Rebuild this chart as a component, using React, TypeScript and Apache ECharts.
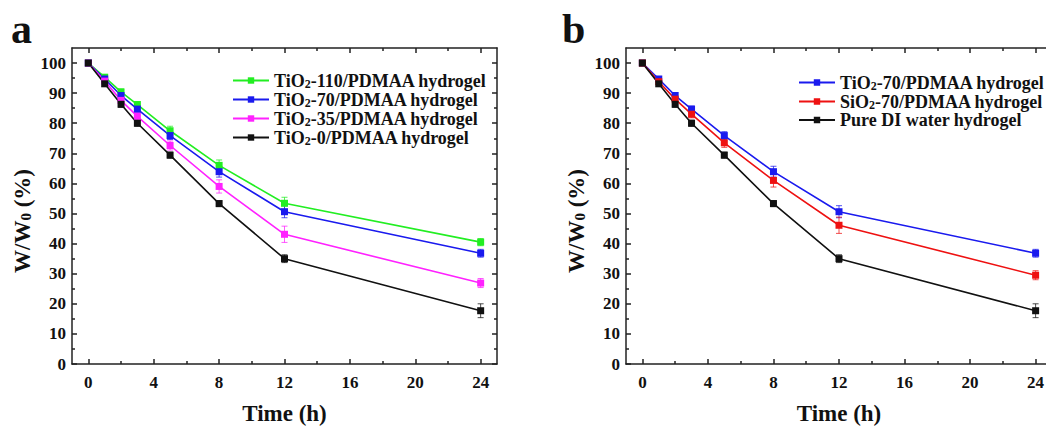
import React, { useEffect, useRef } from "react";
import * as echarts from "echarts";

const times = [0, 1, 2, 3, 5, 8, 12, 24];

const namesA = [
  "TiO2-110/PDMAA hydrogel",
  "TiO2-70/PDMAA hydrogel",
  "TiO2-35/PDMAA hydrogel",
  "TiO2-0/PDMAA hydrogel",
];
const namesB = [
  "TiO2-70/PDMAA hydrogel",
  "SiO2-70/PDMAA hydrogel",
  "Pure DI water hydrogel",
];

const tio2_110 = [100, 95.3, 90.4, 86.2, 77.5, 66.0, 53.4, 40.5];
const tio2_70 = [100, 94.7, 89.2, 84.7, 75.9, 63.9, 50.6, 36.8];
const tio2_35 = [100, 94.0, 87.6, 82.3, 72.6, 59.0, 43.1, 26.9];
const tio2_0 = [100, 93.1, 86.3, 80.0, 69.4, 53.3, 35.0, 17.7];
const sio2_70 = [100, 93.8, 88.0, 83.0, 73.5, 61.0, 46.1, 29.5];

const err_110 = [0.5, 0.8, 1.0, 1.0, 1.5, 1.8, 2.0, 1.2];
const err_70 = [0.5, 0.8, 1.0, 1.0, 1.3, 1.8, 2.0, 1.3];
const err_35 = [0.5, 0.8, 1.0, 1.2, 1.5, 2.2, 2.7, 1.5];
const err_0 = [0.5, 0.8, 1.0, 1.0, 1.0, 1.0, 1.3, 2.3];
const err_si = [0.5, 0.8, 1.0, 1.2, 1.5, 2.2, 2.7, 1.5];

const xMajor = [0, 4, 8, 12, 16, 20, 24];
const xMinor = [2, 6, 10, 14, 18, 22];
const yMajor = [0, 10, 20, 30, 40, 50, 60, 70, 80, 90, 100];
const yMinor = [5, 15, 25, 35, 45, 55, 65, 75, 85, 95];

const yTitle = "{n|W/W}{s|0}{n| (%)}";

const FONT = "'Liberation Serif', 'Times New Roman', serif";
const AX = "#222";

function sub(name: string) {
  const i = name.indexOf("O2");
  if (i < 0) return `{n|${name}}`;
  return `{n|${name.slice(0, i + 1)}}{s|2}{n|${name.slice(i + 2)}}`;
}

const richText = {
  n: { fontFamily: FONT, fontWeight: "bold", fontSize: 18, color: "#111", lineHeight: 21 },
  s: { fontFamily: FONT, fontWeight: "bold", fontSize: 12, color: "#111", lineHeight: 12, padding: [7, 0, 0, 0] },
};

const titleRich = {
  n: { fontFamily: FONT, fontWeight: "bold", fontSize: 23, fill: "#111", color: "#111", lineHeight: 26 },
  s: { fontFamily: FONT, fontWeight: "bold", fontSize: 15, fill: "#111", color: "#111", lineHeight: 15, padding: [8, 0, 0, 0] },
};

function makeX(grid: number) {
  const base = {
    type: "value",
    gridIndex: grid,
    min: -1,
    max: 25,
    splitLine: { show: false },
  };
  return [
    {
      ...base,
      position: "bottom",
      axisLine: { show: true, onZero: false, lineStyle: { color: AX, width: 1.5 } },
      axisTick: { show: true, inside: true, length: 5, customValues: xMajor, lineStyle: { color: AX, width: 1.5 } },
      axisLabel: { show: true, customValues: xMajor, margin: 10, fontFamily: FONT, fontWeight: "bold", fontSize: 17, color: "#111" },
      name: "Time (h)",
      nameLocation: "middle",
      nameGap: 38,
      nameTextStyle: { fontFamily: FONT, fontWeight: "bold", fontSize: 23, lineHeight: 23, color: "#111" },
    },
    {
      ...base,
      position: "bottom",
      axisLine: { show: false, onZero: false },
      axisTick: { show: true, inside: true, length: 3, customValues: xMinor, lineStyle: { color: AX, width: 1.5 } },
      axisLabel: { show: false },
    },
    {
      ...base,
      position: "top",
      axisLine: { show: true, onZero: false, lineStyle: { color: AX, width: 1.5 } },
      axisTick: { show: true, inside: true, length: 5, customValues: xMajor, lineStyle: { color: AX, width: 1.5 } },
      axisLabel: { show: false },
    },
    {
      ...base,
      position: "top",
      axisLine: { show: false, onZero: false },
      axisTick: { show: true, inside: true, length: 3, customValues: xMinor, lineStyle: { color: AX, width: 1.5 } },
      axisLabel: { show: false },
    },
  ];
}

function makeY(grid: number) {
  const base = {
    type: "value",
    gridIndex: grid,
    min: 0,
    max: 105,
    splitLine: { show: false },
  };
  return [
    {
      ...base,
      position: "left",
      axisLine: { show: true, onZero: false, lineStyle: { color: AX, width: 1.5 } },
      axisTick: { show: true, inside: true, length: 5, customValues: yMajor, lineStyle: { color: AX, width: 1.5 } },
      axisLabel: { show: true, customValues: yMajor, margin: 6, fontFamily: FONT, fontWeight: "bold", fontSize: 17, color: "#111" },
    },
    {
      ...base,
      position: "left",
      axisLine: { show: false, onZero: false },
      axisTick: { show: true, inside: true, length: 3, customValues: yMinor, lineStyle: { color: AX, width: 1.5 } },
      axisLabel: { show: false },
    },
    {
      ...base,
      position: "right",
      axisLine: { show: true, onZero: false, lineStyle: { color: AX, width: 1.5 } },
      axisTick: { show: true, inside: true, length: 5, customValues: yMajor, lineStyle: { color: AX, width: 1.5 } },
      axisLabel: { show: false },
    },
    {
      ...base,
      position: "right",
      axisLine: { show: false, onZero: false },
      axisTick: { show: true, inside: true, length: 3, customValues: yMinor, lineStyle: { color: AX, width: 1.5 } },
      axisLabel: { show: false },
    },
  ];
}

function lineSeries(name: string, vals: number[], color: string, grid: number) {
  return {
    type: "line",
    name,
    xAxisIndex: grid * 4,
    yAxisIndex: grid * 4,
    data: times.map((t, i) => [t, vals[i]]),
    symbol: "rect",
    symbolSize: 7,
    itemStyle: { color },
    lineStyle: { color, width: 1.6 },
    z: 3,
  };
}

function errSeries(vals: number[], errs: number[], color: string, grid: number) {
  return {
    type: "custom",
    xAxisIndex: grid * 4,
    yAxisIndex: grid * 4,
    z: 2,
    silent: true,
    data: times.map((t, i) => [t, vals[i], errs[i]]),
    renderItem: (params: any, api: any) => {
      const x = api.value(0);
      const y = api.value(1);
      const e = api.value(2);
      const top = api.coord([x, y + e]);
      const bot = api.coord([x, y - e]);
      const w = 3;
      const style = { stroke: color, lineWidth: 1, opacity: 0.75 };
      return {
        type: "group",
        children: [
          { type: "line", shape: { x1: top[0], y1: top[1], x2: bot[0], y2: bot[1] }, style },
          { type: "line", shape: { x1: top[0] - w, y1: top[1], x2: top[0] + w, y2: top[1] }, style },
          { type: "line", shape: { x1: bot[0] - w, y1: bot[1], x2: bot[0] + w, y2: bot[1] }, style },
        ],
      };
    },
  };
}

const GREEN = "#22ee22";
const BLUE = "#1a1aee";
const MAGENTA = "#ff22ff";
const BLACK = "#111111";
const RED = "#ee1111";

export default function App() {
  const ref = useRef<HTMLDivElement>(null);
  useEffect(() => {
    if (!ref.current) return;
    const chart = echarts.init(ref.current, undefined, { renderer: "svg" });
    const legendBase = {
      orient: "vertical",
      padding: 0,
      itemWidth: 36,
      itemHeight: 8,
      itemGap: 0,
      formatter: (name: string) => sub(name),
      textStyle: { rich: richText },
    };
    const yTitleGraphic = (x: number) => ({
      type: "text",
      x,
      y: 221,
      rotation: Math.PI / 2,
      style: { text: yTitle, rich: titleRich, align: "center", verticalAlign: "middle", fill: "#111" },
    });
    chart.setOption({
      animation: false,
      backgroundColor: "#ffffff",
      grid: [
        { left: 72, top: 48, width: 425, height: 316, outerBoundsMode: "none", containLabel: false },
        { left: 626, top: 48, width: 426, height: 316, outerBoundsMode: "none", containLabel: false },
      ],
      xAxis: [...makeX(0), ...makeX(1)],
      yAxis: [...makeY(0), ...makeY(1)],
      legend: [
        { ...legendBase, left: 232, top: 71, data: namesA },
        { ...legendBase, left: 798, top: 73, data: namesB },
      ],
      graphic: [
        { type: "text", left: 11, top: 8, style: { text: "a", font: `bold 42px ${FONT}`, fill: "#111" } },
        { type: "text", left: 562, top: 8, style: { text: "b", font: `bold 42px ${FONT}`, fill: "#111" } },
        yTitleGraphic(22),
        yTitleGraphic(576),
      ],
      series: [
        errSeries(tio2_110, err_110, GREEN, 0),
        errSeries(tio2_70, err_70, BLUE, 0),
        errSeries(tio2_35, err_35, MAGENTA, 0),
        errSeries(tio2_0, err_0, BLACK, 0),
        lineSeries(namesA[0], tio2_110, GREEN, 0),
        lineSeries(namesA[1], tio2_70, BLUE, 0),
        lineSeries(namesA[2], tio2_35, MAGENTA, 0),
        lineSeries(namesA[3], tio2_0, BLACK, 0),
        errSeries(tio2_70, err_70, BLUE, 1),
        errSeries(sio2_70, err_si, RED, 1),
        errSeries(tio2_0, err_0, BLACK, 1),
        lineSeries(namesB[0], tio2_70, BLUE, 1),
        lineSeries(namesB[1], sio2_70, RED, 1),
        lineSeries(namesB[2], tio2_0, BLACK, 1),
      ],
    });
    return () => chart.dispose();
  }, []);
  return (
    <div
      ref={ref}
      style={{ position: "absolute", left: 0, top: 0, width: 1046, height: 427, background: "#fff" }}
    />
  );
}
